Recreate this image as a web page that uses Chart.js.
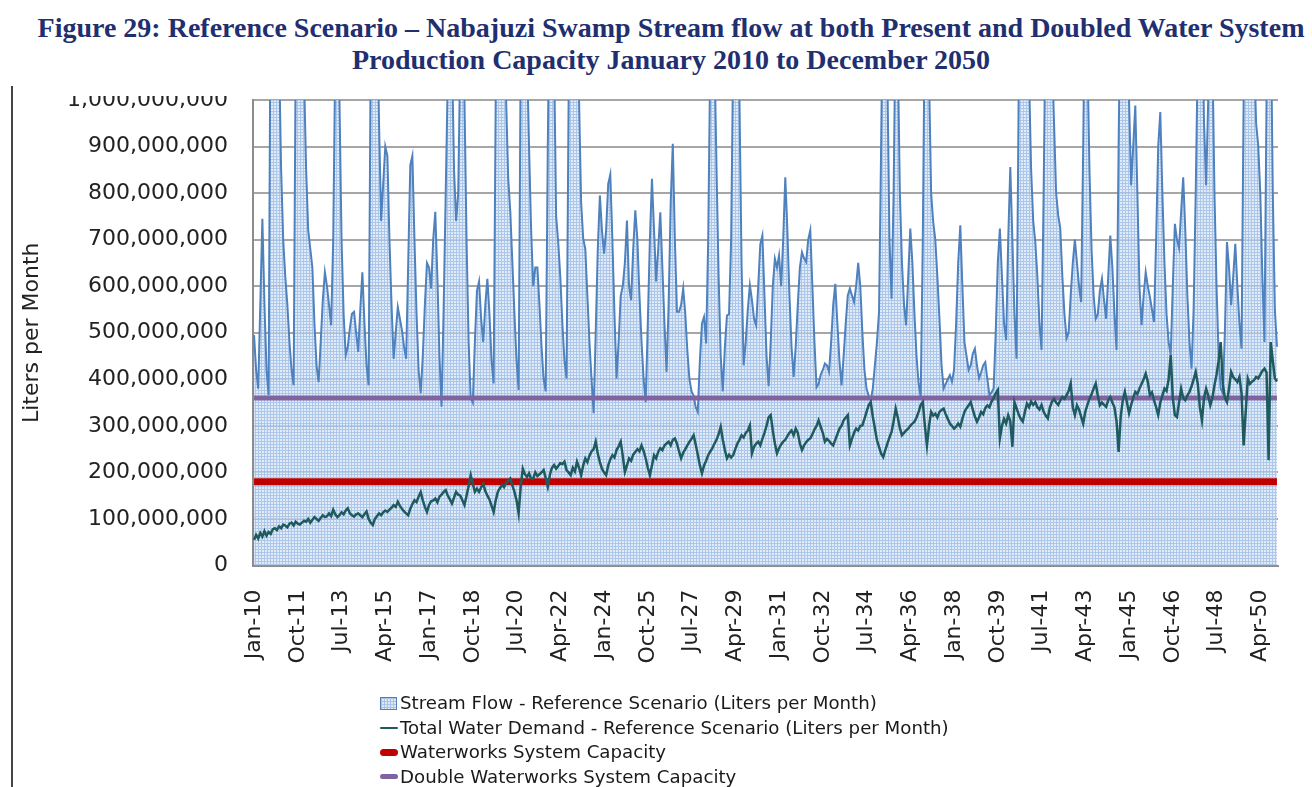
<!DOCTYPE html>
<html>
<head>
<meta charset="utf-8">
<script src="https://cdn.jsdelivr.net/npm/chart.js@4.4.1/dist/chart.umd.min.js"></script>
<style>
  html, body { margin: 0; padding: 0; background: #fff; }
  #wrap { position: relative; width: 1312px; height: 787px; overflow: hidden; }
  #chart { position: absolute; left: 0; top: 0; }
  #title {
    position: absolute; left: 30px; top: 0; width: 1282px; height: 96px;
    box-sizing: border-box; padding-top: 12px; background: #fff; z-index: 2;
    text-align: center; font: bold 28px 'Liberation Serif', serif; line-height: 32px; color: #1f2f6f;
    white-space: nowrap;
  }
  #frame { position: absolute; left: 11px; top: 86px; width: 2px; height: 701px; background: #444; }
  #legend { position: absolute; left: 380px; top: 691px; font: 18.2px 'DejaVu Sans', sans-serif; color: #1a1a1a; }
  .row { height: 24.5px; line-height: 24.5px; display: flex; align-items: center; white-space: nowrap; }
  .sym { width: 18px; height: 24px; position: relative; margin-right: 2px; }
  .sym span { position: absolute; left: 0; }
  .box {
    top: 6px; width: 15px; height: 11px; border: 1px solid #4f81bd;
    background-color: #dfe9f6;
    background-image: linear-gradient(#a9c3e6 1px, transparent 1px), linear-gradient(90deg, #a9c3e6 1px, transparent 1px);
    background-size: 3px 3px;
  }
  .ln { width: 18px; border-radius: 4px; }
</style>
</head>
<body>
<div id="wrap">
  <div id="title">Figure 29: Reference Scenario – Nabajuzi Swamp Stream flow at both Present and Doubled Water System<br>Production Capacity January 2010 to December 2050</div>
  <canvas id="chart" width="1312" height="787"></canvas>
  <div id="frame"></div>
  <div id="legend"></div>
</div>
<script>
// Monthly values, millions of liters, Jan 2010 .. Dec 2050 (one row per year)
const streamFlow = [
  495, 420, 380, 560, 745, 560, 420, 366, 1300, 1500, 1400, 1200,
  1100, 850, 700, 620, 560, 480, 420, 387, 1100, 1400, 1500, 1300,
  1050, 850, 720, 680, 640, 520, 430, 394, 480, 570, 630, 600,
  560, 516, 700, 1100, 1300, 1000, 700, 540, 452, 470, 510, 541,
  545, 500, 459, 550, 630, 520, 430, 387, 1100, 1400, 1400, 1200,
  950, 740, 820, 900, 880, 700, 560, 444, 500, 555, 530, 505,
  470, 444, 650, 860, 880, 700, 540, 420, 370, 450, 560, 650,
  640, 595, 700, 760, 620, 450, 341, 550, 800, 1050, 1300, 1100,
  850, 740, 800, 1100, 1300, 1000, 700, 480, 360, 350, 480, 590,
  610, 530, 480, 560, 616, 540, 440, 391, 1000, 1300, 1500, 1400,
  1200, 1000, 831, 760, 650, 540, 440, 377, 1100, 1400, 1300, 1100,
  900, 720, 600, 640, 640, 560, 470, 400, 374, 900, 1300, 1400,
  1100, 750, 695, 620, 520, 440, 402, 1000, 1300, 1500, 1400, 1200,
  1000, 780, 702, 680, 580, 480, 400, 327, 500, 680, 795, 720,
  670, 720, 820, 840, 700, 540, 402, 480, 580, 600, 650, 741,
  600, 570, 680, 763, 700, 580, 480, 400, 351, 520, 700, 831,
  720, 610, 680, 759, 640, 520, 416, 560, 780, 906, 700, 545,
  545, 560, 595, 540, 460, 400, 374, 365, 340, 330, 440, 520,
  534, 477, 700, 1100, 1300, 1100, 850, 620, 450, 374, 470, 537,
  540, 700, 1100, 1300, 1200, 1000, 650, 430, 480, 550, 602, 570,
  530, 516, 600, 690, 709, 580, 450, 385, 480, 600, 659, 640,
  666, 600, 700, 834, 720, 580, 470, 405, 470, 560, 640, 673,
  660, 652, 700, 720, 600, 480, 383, 390, 410, 420, 434, 430,
  416, 480, 560, 605, 520, 440, 387, 450, 520, 580, 595, 580,
  566, 600, 650, 600, 500, 420, 380, 365, 355, 380, 430, 480,
  545, 900, 1300, 1400, 1050, 700, 573, 800, 1200, 1100, 800, 650,
  560, 516, 620, 724, 650, 540, 450, 390, 362, 700, 1200, 1400,
  1050, 800, 738, 700, 620, 530, 430, 380, 390, 400, 409, 395,
  420, 520, 650, 731, 600, 480, 450, 420, 430, 455, 466, 430,
  402, 415, 430, 437, 400, 366, 372, 380, 500, 650, 724, 620,
  520, 484, 700, 856, 700, 540, 444, 1000, 1300, 1500, 1500, 1300,
  1050, 850, 740, 695, 620, 520, 463, 800, 1200, 1400, 1300, 1100,
  950, 800, 752, 724, 620, 540, 488, 500, 580, 650, 700, 650,
  600, 566, 900, 1300, 1100, 850, 680, 580, 530, 540, 590, 616,
  570, 530, 620, 709, 640, 540, 463, 900, 1300, 1500, 1500, 1300,
  1000, 817, 900, 988, 800, 600, 516, 580, 630, 600, 577, 550,
  523, 700, 900, 974, 800, 650, 540, 480, 452, 600, 734, 700,
  682, 760, 834, 720, 580, 480, 423, 550, 800, 1100, 1300, 1200,
  950, 817, 1000, 1300, 1100, 800, 600, 450, 380, 370, 500, 695,
  640, 559, 620, 691, 600, 520, 466, 1000, 1300, 1500, 1500, 1300,
  1100, 950, 902, 800, 620, 480, 1000, 1300, 1200, 800, 550, 470
];

const waterDemand = [
  55, 66, 58, 70, 62, 74, 64, 72, 68, 78, 80, 76,
  84, 80, 88, 86, 82, 90, 92, 86, 94, 90, 88, 92,
  96, 94, 100, 92, 98, 104, 100, 96, 102, 108, 104, 106,
  112, 106, 120, 110, 104, 108, 114, 110, 118, 123, 112, 108,
  105, 110, 112, 108, 104, 110, 116, 100, 92, 87, 100, 106,
  112, 108, 114, 118, 115, 120, 124, 130, 126, 137, 128, 122,
  116, 112, 108, 122, 132, 140, 136, 148, 158, 140, 126, 115,
  130, 138, 140, 144, 136, 148, 152, 158, 162, 150, 142, 133,
  146, 158, 152, 150, 140, 130, 150, 170, 194, 176, 158, 165,
  158, 168, 176, 160, 150, 142, 128, 115, 140, 158, 166, 173,
  168, 178, 182, 187, 172, 158, 140, 112, 170, 208, 196, 190,
  198, 186, 187, 200, 192, 196, 200, 205, 188, 169, 195, 210,
  216, 208, 214, 220, 218, 223, 205, 200, 194, 210, 202, 223,
  210, 194, 215, 230, 222, 236, 245, 250, 266, 240, 222, 208,
  200, 194, 215, 228, 237, 232, 248, 256, 266, 235, 201, 215,
  230, 225, 238, 244, 250, 245, 258, 246, 230, 210, 194, 215,
  237, 230, 244, 252, 248, 258, 262, 266, 258, 270, 273, 262,
  245, 230, 242, 250, 258, 266, 272, 280, 260, 238, 215, 198,
  215, 225, 237, 245, 252, 262, 270, 282, 298, 270, 248, 230,
  238, 232, 237, 250, 262, 270, 280, 275, 285, 290, 301, 241,
  255, 262, 266, 258, 272, 285, 300, 318, 323, 290, 262, 241,
  252, 260, 266, 270, 278, 285, 290, 280, 294, 285, 262, 248,
  258, 265, 270, 273, 282, 292, 300, 312, 298, 285, 266, 272,
  268, 262, 258, 270, 282, 294, 300, 312, 318, 323, 258, 272,
  285, 294, 290, 300, 301, 315, 330, 344, 351, 320, 295, 269,
  255, 240, 233, 248, 262, 275, 287, 310, 337, 318, 295, 280,
  285, 290, 294, 300, 305, 309, 318, 330, 345, 351, 300, 258,
  300, 330, 322, 326, 318, 330, 334, 337, 325, 315, 305, 300,
  294, 298, 305, 298, 315, 330, 338, 344, 351, 335, 320, 309,
  318, 330, 325, 338, 344, 340, 352, 360, 370, 377, 273, 300,
  315, 305, 323, 310, 255, 351, 338, 325, 315, 309, 330, 348,
  340, 352, 345, 351, 340, 335, 345, 330, 322, 316, 340, 352,
  358, 350, 345, 355, 362, 358, 366, 375, 391, 340, 323, 344,
  335, 320, 305, 330, 345, 358, 368, 380, 391, 365, 344, 350,
  345, 341, 355, 362, 350, 340, 310, 244, 320, 355, 373, 350,
  327, 345, 360, 373, 368, 380, 390, 400, 412, 395, 366, 372,
  355, 340, 323, 350, 365, 380, 375, 400, 452, 360, 323, 319,
  350, 380, 360, 355, 365, 373, 385, 400, 416, 390, 340, 312,
  360, 380, 365, 344, 360, 387, 410, 440, 480, 390, 360, 351,
  380, 416, 405, 400, 394, 405, 370, 258, 330, 402, 390, 395,
  398, 405, 402, 410, 418, 423, 415, 226, 480, 440, 402, 395
];

const systemCapacity = 180;   // millions of liters per month
const doubleCapacity = 360;

const tickLabels = ['Jan-10', 'Oct-11', 'Jul-13', 'Apr-15', 'Jan-17', 'Oct-18', 'Jul-20', 'Apr-22',
  'Jan-24', 'Oct-25', 'Jul-27', 'Apr-29', 'Jan-31', 'Oct-32', 'Jul-34', 'Apr-36', 'Jan-38', 'Oct-39',
  'Jul-41', 'Apr-43', 'Jan-45', 'Oct-46', 'Jul-48', 'Apr-50'];
const tickEvery = 21;

const seriesNames = [
  'Stream Flow - Reference Scenario (Liters per Month)',
  'Total Water Demand - Reference Scenario (Liters per Month)',
  'Waterworks System Capacity',
  'Double Waterworks System Capacity'
];

// month labels for the category axis
const monthNames = ['Jan','Feb','Mar','Apr','May','Jun','Jul','Aug','Sep','Oct','Nov','Dec'];
const months = [];
for (let y = 2010; y <= 2050; y++) {
  monthNames.forEach(m => months.push(m + '-' + String(y).slice(2)));
}

const M = 1e6;

// hatched light blue fill like the original area series
function makePattern() {
  const c = document.createElement('canvas');
  c.width = 3; c.height = 3;
  const g = c.getContext('2d');
  g.fillStyle = 'rgba(214,228,246,0.7)';
  g.fillRect(0, 0, 3, 3);
  g.fillStyle = 'rgba(150,182,228,0.7)';
  g.fillRect(0, 0, 3, 1);
  g.fillRect(0, 1, 1, 2);
  return g.createPattern(c, 'repeat');
}

const ctx = document.getElementById('chart').getContext('2d');
const chart = new Chart(ctx, {
  type: 'line',
  data: {
    labels: months,
    datasets: [
      {
        label: seriesNames[0],
        data: streamFlow.map(v => v * M),
        borderColor: '#4f81bd',
        borderWidth: 2,
        backgroundColor: makePattern(),
        fill: 'origin',
        pointRadius: 0,
        tension: 0,
        order: 4
      },
      {
        label: seriesNames[1],
        data: waterDemand.map(v => v * M),
        borderColor: '#1e5a5e',
        borderWidth: 2.5,
        pointRadius: 0,
        tension: 0,
        fill: false,
        order: 1
      },
      {
        label: seriesNames[2],
        data: months.map(() => systemCapacity * M),
        borderColor: '#c00000',
        borderWidth: 7,
        pointRadius: 0,
        fill: false,
        order: 3
      },
      {
        label: seriesNames[3],
        data: months.map(() => doubleCapacity * M),
        borderColor: '#8064a2',
        borderWidth: 5,
        pointRadius: 0,
        fill: false,
        order: 2
      }
    ]
  },
  options: {
    responsive: false,
    animation: false,
    layout: { padding: { left: 0, right: 34, top: 100, bottom: 0 } },
    plugins: {
      legend: { display: false },
      tooltip: { enabled: false }
    },
    scales: {
      x: {
        offset: true,
        grid: { display: false },
        border: { display: true, color: '#8c8c8c', width: 2 },
        ticks: {
          autoSkip: false,
          maxRotation: 90,
          minRotation: 90,
          padding: 16,
          color: '#222',
          font: { family: 'DejaVu Sans', size: 22 },
          callback: (val, i) => (i % tickEvery === 0 ? tickLabels[i / tickEvery] : '')
        },
        afterFit: s => { s.height = 221.5; s.paddingLeft = 0; s.paddingRight = 0; }
      },
      y: {
        min: 0,
        max: 1000 * M,
        grid: { color: '#a6a6a6', lineWidth: 2, drawTicks: false },
        border: { display: true, color: '#8c8c8c', width: 2 },
        ticks: {
          stepSize: 100 * M,
          padding: 25,
          color: '#222',
          font: { family: 'DejaVu Sans', size: 22 },
          callback: v => v.toLocaleString('en-US')
        },
        title: {
          display: true,
          text: 'Liters per Month',
          color: '#222',
          font: { family: 'DejaVu Sans', size: 22 },
          padding: { top: 19, bottom: 0 }
        },
        afterFit: s => { s.width = 253; s.paddingTop = 0; s.paddingBottom = 0; }
      }
    }
  }
});

// legend stacked vertically under the chart
const legend = document.getElementById('legend');
chart.data.datasets.forEach((ds, i) => {
  const row = document.createElement('div');
  row.className = 'row';
  let sym;
  if (i === 0) {
    sym = '<span class="box"></span>';
  } else {
    const h = [0, 2.5, 7, 5][i];
    sym = '<span class="ln" style="top:' + (12 - h / 2) + 'px;height:' + h + 'px;background:' + ds.borderColor + '"></span>';
  }
  row.innerHTML = '<div class="sym">' + sym + '</div><div>' + ds.label + '</div>';
  legend.appendChild(row);
});
</script>
</body>
</html>
